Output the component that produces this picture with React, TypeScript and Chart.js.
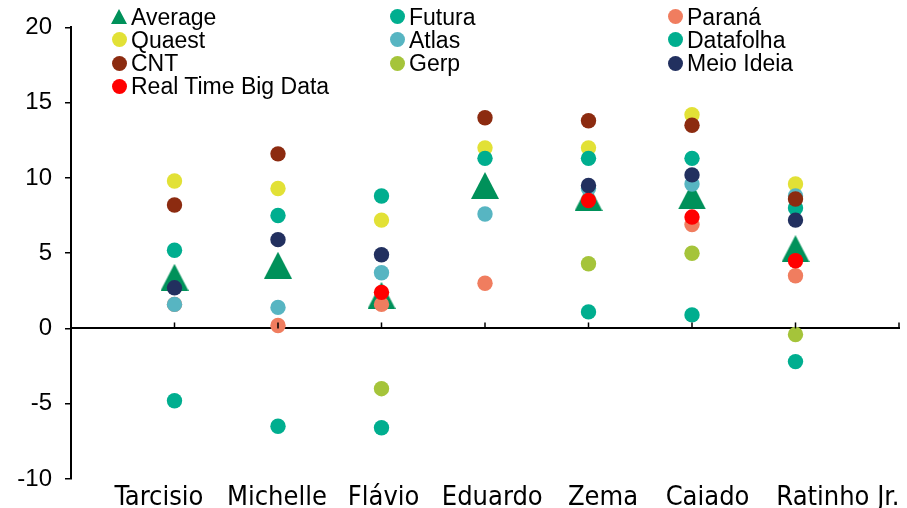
import React, { useEffect, useRef } from "react";
import { Chart, registerables } from "chart.js";

Chart.register(...registerables);

// Candidates on the horizontal axis (placed at x = 1..7)
const candidates = ["Tarcisio", "Michelle", "Flávio", "Eduardo", "Zema", "Caiado", "Ratinho Jr."];
const yTicks = [-10, -5, 0, 5, 10, 15, 20];

// Values per pollster, one entry per candidate (null = no poll)
const average = [3.4, 4.2, 2.2, 9.5, 8.7, 8.8, 5.3];
const futura = [-4.8, -6.5, -6.6, null, 1.1, 0.9, -2.2];
const parana = [1.6, 0.2, 1.6, 3.0, null, 6.9, 3.5];
const quaest = [9.8, 9.3, 7.2, 12.0, 12.0, 14.2, 9.6];
const atlas = [1.6, 1.4, 3.7, 7.6, 9.3, 9.6, 8.8];
const datafolha = [5.2, 7.5, 8.8, 11.3, 11.3, 11.3, 8.0];
const cnt = [8.2, 11.6, null, 14.0, 13.8, 13.5, 8.6];
const gerp = [null, null, -4.0, null, 4.3, 5.0, -0.4];
const meioIdeia = [2.7, 5.9, 4.9, null, 9.5, 10.2, 7.2];
const realTimeBigData = [null, null, 2.4, null, 8.5, 7.4, 4.5];

// Horizontal nudge of each category label, in axis units
const labelNudge = [-0.15, -0.01, 0.02, 0.07, 0.14, 0.15, 0.41];

type Series = { name: string; values: (number | null)[]; color: string; triangle?: boolean };

const series: Series[] = [
  { name: "Average", values: average, color: "#00915A", triangle: true },
  { name: "Futura", values: futura, color: "#00AE8F" },
  { name: "Paraná", values: parana, color: "#F07D5F" },
  { name: "Quaest", values: quaest, color: "#E2E136" },
  { name: "Atlas", values: atlas, color: "#57B5C2" },
  { name: "Datafolha", values: datafolha, color: "#00AE8F" },
  { name: "CNT", values: cnt, color: "#8C2B10" },
  { name: "Gerp", values: gerp, color: "#A5C43A" },
  { name: "Meio Ideia", values: meioIdeia, color: "#22305F" },
  { name: "Real Time Big Data", values: realTimeBigData, color: "#FF0000" },
];

const TEXT_FONT = "'Liberation Sans', Arial, sans-serif";
const LABEL_FONT = "'DejaVu Sans Condensed', 'Liberation Sans Narrow', 'Liberation Sans', sans-serif";

function triangleSprite(color: string, w: number, h: number) {
  const c = document.createElement("canvas");
  c.width = w;
  c.height = h;
  const ctx = c.getContext("2d")!;
  ctx.fillStyle = color;
  ctx.beginPath();
  ctx.moveTo(w / 2, 0);
  ctx.lineTo(w, h);
  ctx.lineTo(0, h);
  ctx.closePath();
  ctx.fill();
  return c;
}

function toPoints(values: (number | null)[]) {
  const pts: { x: number; y: number }[] = [];
  values.forEach((v, i) => {
    if (v !== null) pts.push({ x: i + 1, y: v });
  });
  return pts;
}

// Upward tick marks on the zero line, taken from the x scale's ticks
const zeroTicks = {
  id: "zeroTicks",
  afterDatasetsDraw(chart: any) {
    const xs = chart.scales.x;
    const y0 = chart.scales.y.getPixelForValue(0);
    const ctx = chart.ctx;
    ctx.save();
    ctx.strokeStyle = "#000";
    ctx.lineWidth = 1.5;
    xs.ticks.forEach((t: any) => {
      const px = xs.getPixelForValue(t.value);
      ctx.beginPath();
      ctx.moveTo(px, y0);
      ctx.lineTo(px, y0 - 6);
      ctx.stroke();
    });
    ctx.restore();
  },
};

function Legend() {
  const colX = [119, 397, 675];
  return (
    <>
      {series.map((s, i) => {
        const cx = colX[i % 3];
        const cy = 16.5 + Math.floor(i / 3) * 23.3;
        return (
          <div key={s.name}>
            {s.triangle ? (
              <svg
                width={16}
                height={15}
                style={{ position: "absolute", left: cx - 8, top: cy - 8 }}
              >
                <polygon points="8,0 16,15 0,15" fill={s.color} />
              </svg>
            ) : (
              <div
                style={{
                  position: "absolute",
                  left: cx - 7.5,
                  top: cy - 7.5,
                  width: 15,
                  height: 15,
                  borderRadius: "50%",
                  background: s.color,
                }}
              />
            )}
            <div
              style={{
                position: "absolute",
                left: cx + 12,
                top: cy - 12,
                height: 24,
                lineHeight: "24px",
                fontFamily: TEXT_FONT,
                fontSize: 23,
                color: "#000",
                whiteSpace: "nowrap",
              }}
            >
              {s.name}
            </div>
          </div>
        );
      })}
    </>
  );
}

export default function App() {
  const canvasRef = useRef<HTMLCanvasElement | null>(null);

  useEffect(() => {
    const canvas = canvasRef.current;
    if (!canvas) return;
    const tri = triangleSprite("#00915A", 28, 27);

    const chart = new Chart(canvas, {
      type: "scatter",
      data: {
        datasets: series.map((s, i) => ({
          label: s.name,
          data: toPoints(s.values),
          backgroundColor: s.color,
          borderColor: s.color,
          pointStyle: s.triangle ? (tri as any) : "circle",
          pointRadius: 7.7,
          pointBorderWidth: 0,
          pointHoverRadius: 7.7,
          order: series.length - i,
        })),
      },
      options: {
        animation: false,
        responsive: false,
        maintainAspectRatio: false,
        events: [],
        layout: { padding: { top: 25, right: 8, left: 0, bottom: 0 } },
        plugins: { legend: { display: false }, tooltip: { enabled: false } },
        scales: {
          x: {
            type: "linear",
            min: 0,
            max: 8,
            position: { y: 0 } as any,
            ticks: { display: false, stepSize: 1 },
            grid: { display: false },
            border: { display: true, color: "#000", width: 2 },
          },
          xb: {
            type: "linear",
            axis: "x",
            min: 0,
            max: 8,
            position: "bottom",
            afterBuildTicks: (s: any) => {
              s.ticks = candidates.map((_, i) => ({ value: i + 1 + labelNudge[i] }));
            },
            ticks: {
              autoSkip: false,
              maxRotation: 0,
              padding: 3,
              color: "#000",
              font: { family: LABEL_FONT, size: 27 },
              callback: (_v: any, index: number) => candidates[index] ?? "",
            },
            grid: { display: false, drawTicks: false },
            border: { display: false },
            afterFit: (s: any) => {
              s.height = 29;
            },
          } as any,
          y: {
            type: "linear",
            min: yTicks[0],
            max: yTicks[yTicks.length - 1],
            position: "left",
            ticks: {
              stepSize: 5,
              padding: 13,
              color: "#000",
              font: { family: TEXT_FONT, size: 24 },
            },
            grid: { drawOnChartArea: false, drawTicks: true, tickLength: 6, color: "#000", lineWidth: 1.5 },
            border: { display: true, color: "#000", width: 2 },
            afterFit: (s: any) => {
              s.width = 71;
            },
          },
        },
      },
      plugins: [zeroTicks],
    });

    return () => chart.destroy();
  }, []);

  return (
    <div style={{ position: "fixed", left: 0, top: 0, width: 907, height: 508, background: "#fff" }}>
      <canvas ref={canvasRef} width={907} height={508} style={{ display: "block", width: 907, height: 508 }} />
      <Legend />
    </div>
  );
}
